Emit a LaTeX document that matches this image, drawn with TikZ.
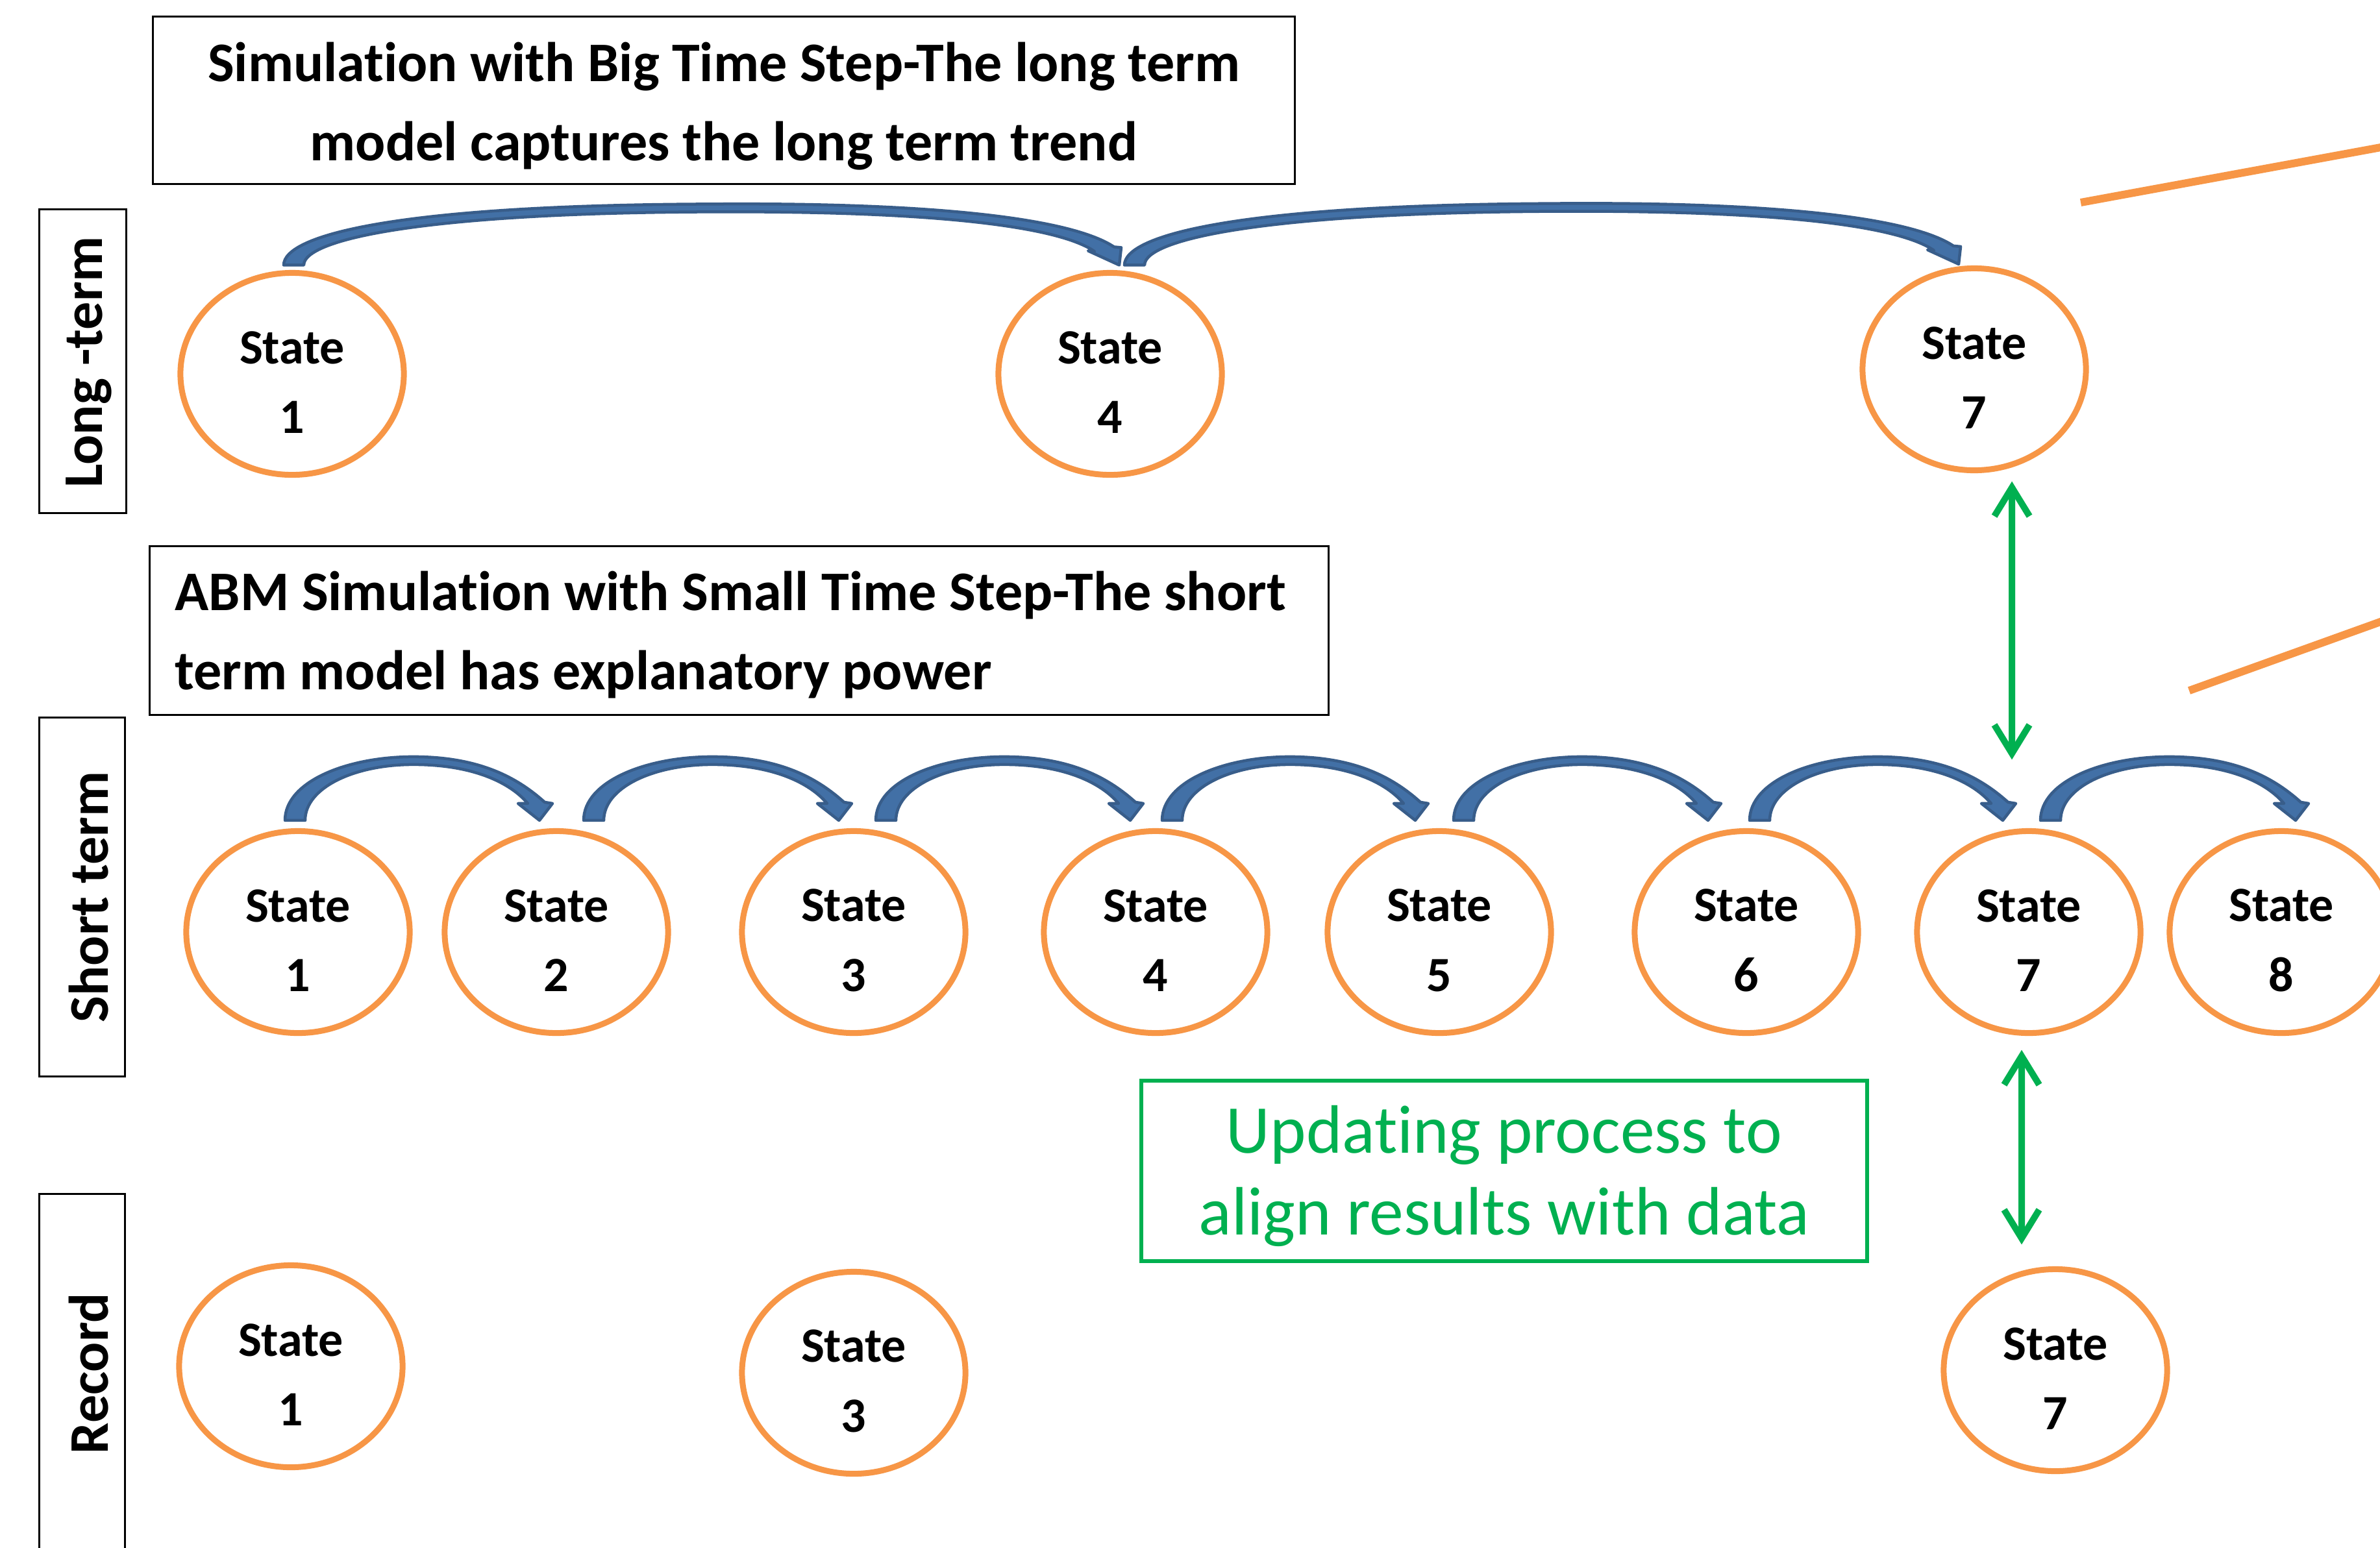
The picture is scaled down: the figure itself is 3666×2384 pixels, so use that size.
\documentclass[tikz,border=0pt]{standalone}
\usepackage{fontspec}
\setmainfont{Carlito}[Ligatures=NoCommon]
\usetikzlibrary{calc,arrows.meta,shapes.geometric}
\definecolor{stOrange}{HTML}{F79646}
\definecolor{arDark}{HTML}{385D8A}
\definecolor{arFill}{HTML}{4270A6}
\definecolor{upGreen}{HTML}{00B050}
\newcommand\dgStateFont{\fontsize{21.6}{30.6}\selectfont\bfseries}
\newcommand\dgTitleFont{\fontsize{24.5}{34.7}\selectfont\bfseries}
\newcommand\dgGreenFont{\fontsize{30}{35.9}\selectfont}
\tikzset{
 stateell/.style={ellipse, draw=stOrange, line width=0.09cm, fill=white, minimum width=3.44cm, minimum height=3.11cm, inner sep=0pt},
 statetext/.style={font=\dgStateFont, align=center, inner sep=0pt},
 titlebox/.style={draw=black, line width=0.03cm, inner sep=0pt},
 titletext/.style={font=\dgTitleFont, inner sep=0pt},
 sidebox/.style={draw=black, line width=0.03cm, inner sep=0pt},
 sidetext/.style={font=\dgTitleFont, rotate=90, inner sep=0pt},
 bluearc/.style={draw=arDark, fill=arFill, line width=0.045cm, line join=round},
 greenarr/.style={draw=upGreen, line width=0.1cm, >={Straight Barb[length=0.44cm,width=0.54cm]}, <->},
 updbox/.style={draw=upGreen, line width=0.06cm, inner sep=0pt},
 updtext/.style={text=upGreen, font=\dgGreenFont, align=center, inner sep=0pt},
 orangeline/.style={draw=stOrange, line width=0.12cm}
}
\newcommand\StateAt[4]{%
  \node[stateell] (#1) at (#2,#3) {};
  \node[statetext] (#1t) at ([yshift=-0.13cm]#1.center) {State\\#4};}
\newcommand\ShortArc[2]{%
  \filldraw[bluearc] ($(#1)+(-16,0)$)
   .. controls ($(#1)+(-16,-60)$) and ($(#1)+(80,-98)$) .. ($(#1)!0.483!(#2)+(0,-98)$)
   .. controls ($(#2)+(-87,-98)$) and ($(#2)+(-30,-62)$) .. ($(#2)+(8,-28)$)
   -- ($(#2)+(20,-26)$) -- (#2) -- ($(#2)+(-33,-26)$) -- ($(#2)+(-18,-26)$)
   .. controls ($(#2)+(-45,-58)$) and ($(#2)+(-102,-86)$) .. ($(#1)!0.483!(#2)+(0,-86)$)
   .. controls ($(#1)+(90,-86)$) and ($(#1)+(15,-50)$) .. ($(#1)+(15,0)$) -- cycle;}
\newcommand\LongArc[2]{%
  \filldraw[bluearc] ($(#1)+(-16,0)$)
   .. controls ($(#1)+(-16,-45)$) and ($(#1)+(150,-92)$) .. ($(#1)!0.5!(#2)+(0,-94)$)
   .. controls ($(#1)!0.787!(#2)+(0,-97)$) and ($(#2)+(-71,-70)$) .. ($(#2)+(-8,-28)$)
   -- ($(#2)+(3,-27)$) -- (#2) -- ($(#2)+(-48,-22)$) -- ($(#2)+(-38,-21)$)
   .. controls ($(#2)+(-91,-58)$) and ($(#1)!0.787!(#2)+(0,-84)$) .. ($(#1)!0.5!(#2)+(0,-82)$)
   .. controls ($(#1)+(200,-80)$) and ($(#1)+(15,-40)$) .. ($(#1)+(15,0)$) -- cycle;}
\begin{document}
\begin{tikzpicture}[x=0.01cm,y=-0.01cm]
\useasboundingbox (0,0) rectangle (3666,2384);
\clip (0,0) rectangle (3666,2384);
\fill[white] (0,0) rectangle (3666,2384);
% title boxes
\node[titlebox, minimum width=17.58cm, minimum height=2.57cm] (title1box) at (1115,154.5) {};
\node[titletext, align=center] (title1) at (1115,163.5)
  {Simulation with Big Time Step-The long term\\model captures the long term trend};
\node[titlebox, minimum width=18.15cm, minimum height=2.59cm] (title2box) at (1138.5,971.5) {};
\node[titletext, align=left, anchor=west] (title2) at (269,978.5)
  {ABM Simulation with Small Time Step-The short\\term model has explanatory power};
% side labels
\node[sidebox, minimum width=1.33cm, minimum height=4.67cm] (ltbox) at (127.5,556.5) {};
\node[sidetext] (lttext) at (137,558) {Long -term};
\node[sidebox, minimum width=1.31cm, minimum height=5.52cm] (stbox) at (126.5,1382) {};
\node[sidetext] (sttext) at (137,1382) {Short term};
\node[sidebox, minimum width=1.31cm, minimum height=6.0cm] (rcbox) at (126.5,2140) {};
\node[sidetext] (rctext) at (137,2116) {Record};
% long-term states
\StateAt{lt1}{450}{576}{1}
\StateAt{lt4}{1710}{576}{4}
\StateAt{lt7}{3041}{569}{7}
% short-term states
\StateAt{st1}{459}{1436}{1}
\StateAt{st2}{857}{1436}{2}
\StateAt{st3}{1315}{1436}{3}
\StateAt{st4}{1780}{1436}{4}
\StateAt{st5}{2217}{1436}{5}
\StateAt{st6}{2690}{1436}{6}
\StateAt{st7}{3125}{1436}{7}
\StateAt{st8}{3514}{1436}{8}
% record states
\StateAt{rc1}{448}{2105}{1}
\StateAt{rc3}{1315}{2115}{3}
\StateAt{rc7}{3166}{2111}{7}
% long-term arrows
\coordinate (la1) at ([xshift=0.03cm,yshift=0.075cm]lt1.north);
\coordinate (lb1) at ([xshift=0.14cm,yshift=0.075cm]lt4.north);
\coordinate (la2) at ([xshift=0.38cm,yshift=0.075cm]lt4.north);
\coordinate (lb2) at ([xshift=-0.24cm,yshift=0.02cm]lt7.north);
\LongArc{la1}{lb1}
\LongArc{la2}{lb2}
% short-term arrows
\coordinate (sa1) at ([xshift=-0.04cm,yshift=0.12cm]st1.north);
\coordinate (sb1) at ([xshift=-0.26cm,yshift=0.12cm]st2.north);
\coordinate (sa2) at ([xshift=0.58cm,yshift=0.12cm]st2.north);
\coordinate (sb2) at ([xshift=-0.23cm,yshift=0.12cm]st3.north);
\coordinate (sa3) at ([xshift=0.50cm,yshift=0.12cm]st3.north);
\coordinate (sb3) at ([xshift=-0.39cm,yshift=0.12cm]st4.north);
\coordinate (sa4) at ([xshift=0.26cm,yshift=0.12cm]st4.north);
\coordinate (sb4) at ([xshift=-0.37cm,yshift=0.12cm]st5.north);
\coordinate (sa5) at ([xshift=0.38cm,yshift=0.12cm]st5.north);
\coordinate (sb5) at ([xshift=-0.59cm,yshift=0.12cm]st6.north);
\coordinate (sa6) at ([xshift=0.21cm,yshift=0.12cm]st6.north);
\coordinate (sb6) at ([xshift=-0.40cm,yshift=0.12cm]st7.north);
\coordinate (sa7) at ([xshift=0.34cm,yshift=0.12cm]st7.north);
\coordinate (sb7) at ([xshift=0.22cm,yshift=0.12cm]st8.north);
\ShortArc{sa1}{sb1}
\ShortArc{sa2}{sb2}
\ShortArc{sa3}{sb3}
\ShortArc{sa4}{sb4}
\ShortArc{sa5}{sb5}
\ShortArc{sa6}{sb6}
\ShortArc{sa7}{sb7}
% green updating box and arrows
\node[updbox, minimum width=11.18cm, minimum height=2.78cm] (updbox) at (2317,1804) {};
\node[updtext] (upd) at (2317,1812) {Updating process to\\align results with data};
\draw[greenarr] ([xshift=0.58cm,yshift=-0.125cm]lt7.south) -- ([xshift=-0.26cm,yshift=1.055cm]st7.north);
\draw[greenarr] ([xshift=-0.11cm,yshift=-0.215cm]st7.south) -- ([xshift=-0.52cm,yshift=0.335cm]rc7.north);
% orange lines at the right edge
\coordinate (oa1) at (3205,312);
\coordinate (ob1) at (3700,221);
\coordinate (oa2) at (3372,1064);
\coordinate (ob2) at (3700,946);
\draw[orangeline] (oa1) -- (ob1);
\draw[orangeline] (oa2) -- (ob2);
\end{tikzpicture}
\end{document}
